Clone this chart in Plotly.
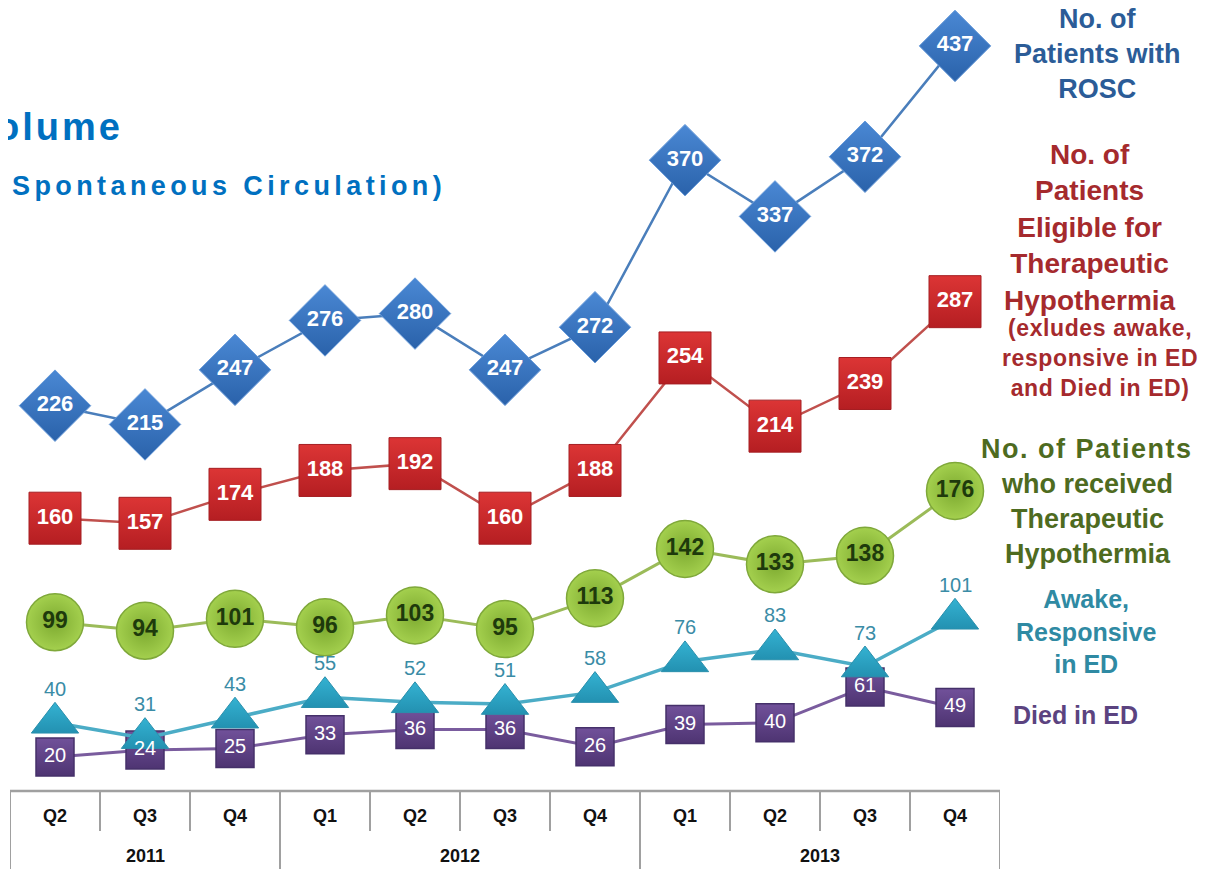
import plotly.graph_objects as go

quarters = ["Q2", "Q3", "Q4", "Q1", "Q2", "Q3", "Q4", "Q1", "Q2", "Q3", "Q4"]
years = ["2011"] * 3 + ["2012"] * 4 + ["2013"] * 4
rosc = [226, 215, 247, 276, 280, 247, 272, 370, 337, 372, 437]
eligible = [160, 157, 174, 188, 192, 160, 188, 254, 214, 239, 287]
received = [99, 94, 101, 96, 103, 95, 113, 142, 133, 138, 176]
awake = [40, 31, 43, 55, 52, 51, 58, 76, 83, 73, 101]
died = [20, 24, 25, 33, 36, 36, 26, 39, 40, 61, 49]

x = [f"{y} {q}" for y, q in zip(years, quarters)]

OFF = 8  # page body margin
W, H = 1206 - OFF, 869 - OFF
ML, MT = 10 - OFF, 0
PW = 990
AXIS_Y = 791 - OFF          # axis line, figure coords
PH = AXIS_Y - MT
MR = W - ML - PW
MB = H - MT - PH
FONT = "Liberation Sans, Arial, sans-serif"


def px(p):  # page x -> paper x
    return (p - OFF - ML) / PW


def py(p):  # page y -> paper y
    return (AXIS_Y - (p - OFF)) / PH


fig = go.Figure()

fig.add_trace(go.Scatter(
    x=x, y=rosc, mode="lines+markers+text", text=[str(v) for v in rosc],
    textposition="middle center",
    textfont=dict(family=FONT, size=22, color="white", weight="bold"),
    line=dict(color="#4A7EBB", width=2.5),
    marker=dict(symbol="diamond", size=55, color="#4A88D4",
                gradient=dict(type="vertical", color="#2A62AA"),
                line=dict(color="#6A9CDA", width=1)),
    cliponaxis=False, showlegend=False))

fig.add_trace(go.Scatter(
    x=x, y=eligible, mode="lines+markers+text", text=[str(v) for v in eligible],
    textposition="middle center",
    textfont=dict(family=FONT, size=22, color="white", weight="bold"),
    line=dict(color="#C0504D", width=2.5),
    marker=dict(symbol="square", size=52, color="#DC3535",
                gradient=dict(type="vertical", color="#B51E22"),
                line=dict(color="#A51E22", width=1)),
    cliponaxis=False, showlegend=False))

fig.add_trace(go.Scatter(
    x=x, y=received, mode="lines+markers+text", text=[str(v) for v in received],
    textposition="middle center",
    textfont=dict(family=FONT, size=23, color="#1E3A0C", weight="bold"),
    line=dict(color="#9BBB59", width=3),
    marker=dict(symbol="circle", size=57, color="#A4D04E",
                gradient=dict(type="radial", color="#7DAA30"),
                line=dict(color="#7FA83A", width=1.5)),
    cliponaxis=False, showlegend=False))

fig.add_trace(go.Scatter(
    x=x, y=died, mode="lines+markers",
    line=dict(color="#7A5C9E", width=3),
    marker=dict(symbol="square", size=38, color="#71519A",
                gradient=dict(type="vertical", color="#4E3472"),
                line=dict(color="#45306A", width=1.5)),
    cliponaxis=False, showlegend=False))

fig.add_trace(go.Scatter(
    x=x, y=awake, mode="lines+markers",
    line=dict(color="#4BACC6", width=3.5),
    marker=dict(symbol="triangle-up", size=41, color="#34B2D2",
                gradient=dict(type="vertical", color="#2391B1"),
                line=dict(color="#2A90AD", width=1)),
    cliponaxis=False, showlegend=False))

fig.add_trace(go.Scatter(
    x=x, y=died, mode="text", text=[str(v) for v in died],
    textposition="middle center",
    textfont=dict(family=FONT, size=20, color="white"),
    cliponaxis=False, showlegend=False))

annotations = []
for xi, v in zip(x, awake):
    annotations.append(dict(x=xi, y=v, xref="x", yref="y", text=str(v), showarrow=False,
                            yshift=34, yanchor="middle",
                            font=dict(family=FONT, size=20, color="#3A8CA6")))

for xi, q in zip(x, quarters):
    annotations.append(dict(x=xi, y=0, xref="x", yref="paper", text=f"<b>{q}</b>", showarrow=False,
                            yshift=-25, yanchor="middle", xanchor="center",
                            font=dict(family=FONT, size=18, color="#111111")))

shapes = []
line_c = "#A0A0A0"
bottom = -MB / PH
short = -40 / PH
groups = []
for i, yv in enumerate(years):
    if not groups or groups[-1][0] != yv:
        groups.append([yv, i, i])
    else:
        groups[-1][2] = i
for yv, a, b in groups:
    annotations.append(dict(x=(a + b) / 2, y=0, xref="x", yref="paper", text=f"<b>{yv}</b>",
                            showarrow=False, yshift=-65, yanchor="middle", xanchor="center",
                            font=dict(family=FONT, size=18, color="#111111")))
    shapes.append(dict(type="line", xref="x", yref="paper", x0=a - 0.5, x1=a - 0.5,
                       y0=0, y1=bottom, line=dict(color=line_c, width=2)))
    for k in range(a + 1, b + 1):
        shapes.append(dict(type="line", xref="x", yref="paper", x0=k - 0.5, x1=k - 0.5,
                           y0=0, y1=short, line=dict(color=line_c, width=2)))
n = len(x)
shapes.append(dict(type="line", xref="x", yref="paper", x0=n - 0.5, x1=n - 0.5,
                   y0=0, y1=bottom, line=dict(color=line_c, width=2)))
shapes.append(dict(type="line", xref="x", yref="paper", x0=-0.5, x1=n - 0.5,
                   y0=0, y1=0, line=dict(color=line_c, width=2.5)))


def side(text, cx, cy, size, color, ls=0):
    t = f'<b><span style="letter-spacing:{ls}px">{text}</span></b>' if ls else f"<b>{text}</b>"
    annotations.append(dict(x=px(cx), y=py(cy), xref="paper", yref="paper", text=t,
                            showarrow=False, xanchor="center", yanchor="middle", align="center",
                            font=dict(family=FONT, size=size, color=color)))


side("No. of<br>Patients with<br>ROSC", 1097, 54, 27, "#2B5C97")
side("No. of<br>Patients<br>Eligible for<br>Therapeutic<br>Hypothermia", 1090, 227, 28, "#A52A2D")
side("(exludes awake,<br>responsive in ED<br>and Died in ED)", 1100, 358, 23, "#A52A2D", 0.6)
side("No. of Patients", 1087, 449, 27, "#4E6B1F", 1.5)
side("who received<br>Therapeutic<br>Hypothermia", 1087, 519, 27, "#4E6B1F")
side("Awake,<br>Responsive<br>in ED", 1086, 631, 25, "#2F8AA3")
side("Died in ED", 1075, 715, 25, "#5B4380")

TFONT = "Liberation Sans Narrow, Liberation Sans, sans-serif"
annotations.append(dict(x=px(-6), y=py(127), xref="paper", yref="paper",
                        text='<b><span style="letter-spacing:3px">olume</span></b>',
                        showarrow=False, xanchor="left", yanchor="middle",
                        font=dict(family=TFONT, size=38, color="#0070C0")))
annotations.append(dict(x=px(10), y=py(186), xref="paper", yref="paper",
                        text='<b><span style="letter-spacing:4.4px">Spontaneous Circulation)</span></b>',
                        showarrow=False, xanchor="left", yanchor="middle",
                        font=dict(family=TFONT, size=27, color="#0070C0")))

fig.update_layout(
    width=W, height=H,
    margin=dict(l=ML, r=MR, t=MT, b=MB),
    paper_bgcolor="white", plot_bgcolor="white",
    xaxis=dict(type="category", range=[-0.5, n - 0.5], showgrid=False, zeroline=False,
               showticklabels=False, ticks="", showline=False),
    yaxis=dict(range=[0, PH / 1.705], showgrid=False, zeroline=False, showticklabels=False,
               ticks="", showline=False),
    annotations=annotations, shapes=shapes,
)

fig.write_html("out.html")
